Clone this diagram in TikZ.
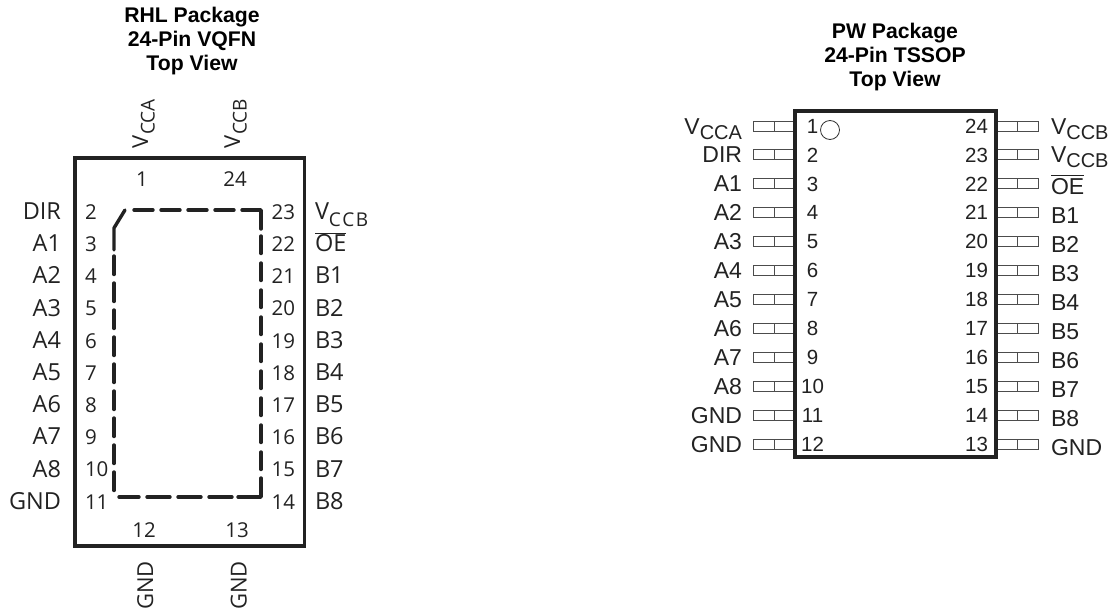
\documentclass[tikz,border=0pt]{standalone}
\usepackage{fontspec}
\setmainfont{Open Sans}
\newfontfamily\arialf{Liberation Sans}
\definecolor{ink}{HTML}{222222}
\newcommand{\qlab}{\fontsize{23.5}{23.5}\selectfont}
\newcommand{\qrot}{\fontsize{22}{22}\selectfont}
\newcommand{\qnum}{\fontsize{20.5}{20.5}\selectfont}
\newcommand{\qsub}[1]{V\raisebox{-6.5pt}{\fontsize{19}{19}\selectfont #1}}
\newcommand{\tlab}{\arialf\fontsize{23}{23}\selectfont}
\newcommand{\tnum}{\arialf\fontsize{20.5}{20.5}\selectfont}
\newcommand{\tsub}[1]{V\raisebox{-5pt}{\fontsize{20}{20}\selectfont #1}}
\tikzset{
  txt/.style={inner sep=0pt,outer sep=0pt,text=ink,text height=#1,text depth=0pt},
  qlabel/.style={txt=15pt,font=\qlab},
  qrotated/.style={txt=15pt,font=\qrot,rotate=90},
  qnumber/.style={txt=14.5pt,font=\qnum},
  tlabel/.style={txt=16pt,font=\tlab},
  tnumber/.style={txt=14.5pt,font=\tnum},
  title/.style={inner sep=0pt,align=center,text=black,font=\arialf\bfseries\fontsize{21.2}{24}\selectfont},
  body/.style={draw=ink,line width=3.6pt,line join=miter},
  pad/.style={draw=ink,line width=3.4pt,line cap=round,line join=round},
  pin/.style={draw=black!70,line width=1pt,fill=white},
  bar/.style={draw=ink,line width=1.3pt}
}
\begin{document}
\begin{tikzpicture}[x=1pt,y=-1pt]
\useasboundingbox (0,0) rectangle (1113,610);
% ---------- RHL package ----------
\node[title] (t1) at (192,41) {RHL Package\\24-Pin VQFN\\Top View};
\draw[body] (75,158) rectangle (304.5,546);
\draw[pad] (125,210) -- (114,228) -- (114,250);
\draw[pad,dash pattern=on 18.5pt off 8.5pt] (114,256) -- (114,492);
\draw[pad,dash pattern=on 19pt off 8pt] (134,210) -- (240,210);
\draw[pad] (242,210) -- (261,210) -- (261,229);
\draw[pad,dash pattern=on 17.5pt off 9.5pt] (261,236) -- (261,472);
\draw[pad] (261,478) -- (261,497) -- (238,497);
\draw[pad,dash pattern=on 23pt off 8pt] (232,497) -- (119,497);
\foreach \lab/\num [count=\i from 0] in {DIR/2,A1/3,A2/4,A3/5,A4/6,A5/7,A6/8,A7/9,A8/10,GND/11}{
  \pgfmathsetmacro{\yy}{212+32.2*\i}
  \node[qlabel,anchor=east] (ql\num) at (61,\yy) {\lab};
  \node[qnumber,anchor=west] (qn\num) at (85,\yy) {\num};
}
\foreach \lab/\num [count=\i from 0] in {{\qsub{C\kern1.5pt C\kern1.5pt B}}/23,{OE}/22,B1/21,B2/20,B3/19,B4/18,B5/17,B6/16,B7/15,B8/14}{
  \pgfmathsetmacro{\yy}{212+32.2*\i}
  \node[qlabel,anchor=west] (ql\num) at (315,\yy) {\lab};
  \node[qnumber,anchor=east] (qn\num) at (295,\yy) {\num};
}
\draw[bar] ([yshift=3.5pt]ql22.north west) -- ([yshift=3.5pt]ql22.north east);
\node[qnumber] (qn1) at (142,179) {1};
\node[qnumber] (qn24) at (235,179) {24};
\node[qnumber] (qn12) at (144,530) {12};
\node[qnumber] (qn13) at (237,530) {13};
\node[qrotated,anchor=west] (qvcca) at (140.5,148) {\qsub{CCA}};
\node[qrotated,anchor=west] (qvccb) at (232.5,148) {\qsub{CCB}};
\node[qrotated,anchor=east] (qg1) at (145.5,561) {GND};
\node[qrotated,anchor=east] (qg2) at (239,561) {GND};
% ---------- PW package ----------
\node[title] (t2) at (895,57) {PW Package\\24-Pin TSSOP\\Top View};
\foreach \i in {0,...,11}{
  \pgfmathsetmacro{\yy}{126+28.91*\i}
  \draw[pin] (753,\yy-5) rectangle (795,\yy+5);
  \draw[pin] (774,\yy-5) -- (774,\yy+5);
  \draw[pin] (996,\yy-5) rectangle (1038,\yy+5);
  \draw[pin] (1017,\yy-5) -- (1017,\yy+5);
}
\draw[body,fill=white] (795,111) rectangle (996,457);
\node[draw=black!80,line width=0.8pt,circle,minimum size=19pt,inner sep=0pt] (dot) at (830,130) {};
\foreach \lab/\num [count=\i from 0] in {{\tsub{CCA}}/1,DIR/2,A1/3,A2/4,A3/5,A4/6,A5/7,A6/8,A7/9,A8/10,GND/11,GND/12}{
  \pgfmathsetmacro{\yy}{126+28.91*\i}
  \node[tlabel,anchor=east] (tl\num) at (742,\yy) {\lab};
  \node[tnumber] (tn\num) at (812.5,\yy) {\num};
}
\foreach \lab/\num [count=\i from 0] in {{\tsub{CCB}}/24,{\tsub{CCB}}/23,{OE}/22,B1/21,B2/20,B3/19,B4/18,B5/17,B6/16,B7/15,B8/14,GND/13}{
  \pgfmathsetmacro{\yy}{126+28.91*\i}
  \pgfmathsetmacro{\yl}{\yy+(\i>1?3:0)}
  \node[tlabel,anchor=west] (tl\num) at (1051,\yl) {\lab};
  \node[tnumber,anchor=east] (tn\num) at (988,\yy) {\num};
}
\draw[bar] ([yshift=3.5pt]tl22.north west) -- ([yshift=3.5pt]tl22.north east);
\end{tikzpicture}
\end{document}
